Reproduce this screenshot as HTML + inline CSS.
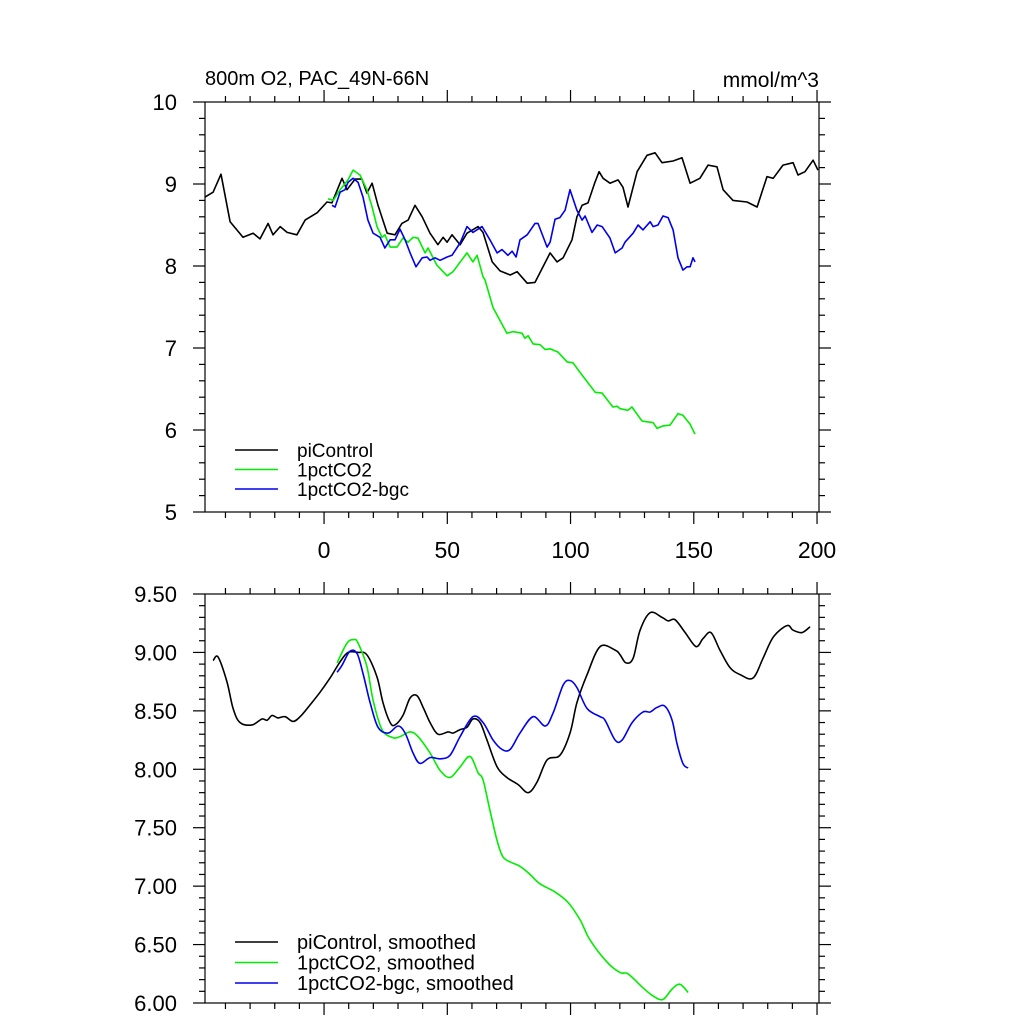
<!DOCTYPE html>
<html><head><meta charset="utf-8"><style>
html,body{margin:0;padding:0;background:#fff;}
svg{display:block;font-family:"Liberation Sans",Arial,sans-serif;}
</style></head><body>
<svg id="chart" width="1024" height="1024" viewBox="0 0 1024 1024"></svg>
<script>
// ---- data ----
const piYears=[-48.3,-45.0,-41.8,-38.1,-32.9,-28.8,-26.0,-22.7,-20.7,-17.8,-15.0,-11.0,-7.7,-2.8,1.2,3.2,7.3,9.3,12.6,15.4,17.4,19.5,21.9,25.6,28.8,31.6,34.1,36.9,39.8,43.0,46.2,48.3,49.9,51.9,55.2,58.0,62.5,64.5,68.2,71.4,75.5,78.3,82.4,85.6,91.7,94.5,97.0,100.6,102.6,104.7,107.1,109.9,111.6,113.2,116.0,119.3,121.3,123.3,127.0,131.0,134.3,137.1,141.6,145.2,148.5,152.5,155.8,159.4,161.9,165.9,171.6,175.7,179.7,182.2,186.2,190.3,192.3,195.1,198.4,200.4];
const piValues=[8.84,8.90,9.12,8.54,8.35,8.40,8.33,8.52,8.38,8.48,8.41,8.38,8.56,8.65,8.78,8.77,9.07,8.93,9.06,9.06,8.89,9.01,8.74,8.40,8.38,8.52,8.56,8.74,8.60,8.40,8.26,8.35,8.29,8.38,8.26,8.40,8.48,8.41,8.05,7.94,7.89,7.93,7.79,7.80,8.16,8.05,8.10,8.32,8.60,8.74,8.77,9.02,9.15,9.07,9.01,9.05,8.96,8.72,9.15,9.35,9.38,9.26,9.28,9.32,9.01,9.07,9.23,9.21,8.93,8.80,8.78,8.72,9.09,9.07,9.23,9.26,9.11,9.15,9.29,9.17];
const co2Years=[1.6,3.7,6.5,9.7,11.8,14.6,17.4,19.5,21.5,23.5,24.7,26.8,29.6,32.0,34.1,36.1,38.1,41.0,42.2,45.8,49.9,52.3,58.0,60.4,62.1,64.5,65.3,68.6,74.2,76.7,80.3,81.5,82.8,84.8,87.6,89.7,91.7,94.9,98.6,101.0,103.9,110.0,112.8,117.2,118.9,120.1,123.3,124.9,129.0,131.0,133.5,135.1,137.5,140.4,143.6,145.6,148.5,150.5];
const co2Values=[8.82,8.80,8.93,9.05,9.17,9.11,8.93,8.72,8.48,8.35,8.38,8.23,8.23,8.34,8.29,8.35,8.34,8.16,8.22,8.01,7.88,7.93,8.16,8.05,8.13,7.87,7.83,7.49,7.18,7.20,7.18,7.12,7.15,7.05,7.04,6.98,6.99,6.95,6.83,6.82,6.70,6.46,6.45,6.28,6.29,6.26,6.24,6.28,6.11,6.10,6.09,6.02,6.05,6.06,6.20,6.18,6.07,5.95];
const bgcYears=[3.2,4.5,6.5,8.5,9.7,11.8,13.8,15.8,17.8,19.9,22.7,24.7,26.8,28.8,30.8,32.9,34.9,37.3,39.8,41.8,43.0,45.0,47.1,49.9,51.9,55.2,58.0,60.4,64.1,67.3,70.2,72.2,74.6,76.3,77.9,79.5,82.4,85.6,86.8,90.5,91.7,93.7,95.7,97.8,99.8,102.6,104.7,105.9,108.7,110.8,112.8,116.0,118.1,120.9,122.1,125.4,127.4,129.4,132.3,133.5,135.5,137.5,139.6,141.6,143.6,145.6,147.3,148.5,149.7,150.5];
const bgcValues=[8.74,8.72,8.90,8.93,9.02,9.07,9.02,8.84,8.56,8.40,8.35,8.22,8.32,8.32,8.45,8.32,8.16,7.99,8.10,8.11,8.07,8.10,8.07,8.11,8.13,8.28,8.48,8.41,8.48,8.32,8.16,8.20,8.13,8.18,8.11,8.32,8.38,8.52,8.52,8.23,8.29,8.57,8.59,8.68,8.93,8.68,8.56,8.61,8.41,8.50,8.48,8.34,8.16,8.22,8.29,8.40,8.50,8.44,8.54,8.48,8.50,8.61,8.59,8.44,8.10,7.95,7.99,7.99,8.10,8.05];
const piSmYears=[-45.0,-43.0,-39.4,-36.9,-34.1,-29.2,-25.2,-23.1,-21.1,-18.7,-15.8,-12.6,-9.7,-5.7,-1.6,2.4,6.5,9.7,13.8,17.4,21.5,23.9,26.8,28.8,32.0,34.9,37.7,40.2,43.0,46.2,50.3,52.3,55.2,58.0,60.4,63.3,66.1,70.2,74.2,78.7,82.8,86.4,90.5,95.7,99.8,102.6,106.7,112.0,118.1,120.1,122.5,125.4,128.2,132.3,137.1,139.6,142.4,146.5,150.9,153.8,157.0,160.6,164.7,168.8,174.0,178.1,182.2,187.8,190.3,193.9,197.2];
const piSmValues=[8.93,8.96,8.75,8.52,8.40,8.38,8.43,8.42,8.46,8.44,8.45,8.41,8.45,8.55,8.66,8.78,8.92,9.00,9.00,8.98,8.79,8.57,8.40,8.38,8.46,8.61,8.63,8.53,8.40,8.30,8.32,8.31,8.34,8.36,8.43,8.40,8.25,8.02,7.93,7.87,7.80,7.89,8.08,8.12,8.31,8.57,8.81,9.05,9.02,8.98,8.91,8.95,9.19,9.34,9.30,9.27,9.28,9.17,9.05,9.12,9.17,9.02,8.87,8.81,8.78,8.95,9.13,9.23,9.19,9.17,9.22];
const co2SmYears=[5.3,9.3,12.2,13.8,17.4,19.9,23.5,28.0,30.8,34.9,38.1,43.0,47.1,51.1,55.2,59.2,62.5,64.5,67.3,70.2,72.6,76.3,79.5,83.6,87.6,93.7,99.0,103.9,107.9,114.8,120.1,123.3,129.4,133.5,137.5,141.2,144.4,147.7];
const co2SmValues=[8.91,9.08,9.11,9.08,8.88,8.59,8.34,8.27,8.28,8.32,8.28,8.14,7.99,7.93,8.02,8.11,7.97,7.91,7.65,7.39,7.25,7.20,7.17,7.10,7.02,6.95,6.86,6.71,6.54,6.35,6.26,6.25,6.13,6.06,6.03,6.12,6.16,6.09];
const bgcSmYears=[5.3,7.3,10.5,13.4,15.8,18.7,21.9,26.0,30.0,32.9,36.1,38.9,43.0,47.1,51.1,55.2,60.4,64.5,68.6,72.2,75.5,79.5,84.8,89.7,92.9,97.0,99.8,102.6,106.7,112.0,114.0,118.1,120.9,125.0,129.4,132.3,135.1,138.3,141.2,143.2,145.6,147.7];
const bgcSmValues=[8.83,8.89,9.01,8.99,8.82,8.57,8.36,8.31,8.37,8.31,8.14,8.05,8.10,8.09,8.12,8.28,8.45,8.40,8.25,8.17,8.17,8.31,8.45,8.37,8.48,8.72,8.76,8.70,8.52,8.45,8.42,8.25,8.25,8.40,8.49,8.49,8.53,8.54,8.42,8.22,8.05,8.01];
const xTickValues=[0,50,100,150,200];
const xTickLabels=["0","50","100","150","200"];
const topYTicks=[5,6,7,8,9,10];
const topYLabels=["5","6","7","8","9","10"];
const botYTicks=[6,6.5,7,7.5,8,8.5,9,9.5];
const botYLabels=["6.00","6.50","7.00","7.50","8.00","8.50","9.00","9.50"];

// ---- rendering ----
const NS="http://www.w3.org/2000/svg";
const svg=document.getElementById('chart');
function mk(tag,attrs,parent){const e=document.createElementNS(NS,tag);for(const k in attrs)e.setAttribute(k,attrs[k]);(parent||svg).appendChild(e);return e;}
const X0=205,X1=819,XMIN=-48.3,XMAX=200.8;
function xs(v){return X0+(v-XMIN)/(XMAX-XMIN)*(X1-X0);}

// Catmull-Rom smooth path
function smoothPath(pts){
  let d='M'+pts[0][0].toFixed(1)+','+pts[0][1].toFixed(1);
  for(let i=0;i<pts.length-1;i++){
    const p0=pts[i-1]||pts[i],p1=pts[i],p2=pts[i+1],p3=pts[i+2]||p2;
    const c1=[p1[0]+(p2[0]-p0[0])/6,p1[1]+(p2[1]-p0[1])/6];
    const c2=[p2[0]-(p3[0]-p1[0])/6,p2[1]-(p3[1]-p1[1])/6];
    d+=' C'+c1[0].toFixed(1)+','+c1[1].toFixed(1)+' '+c2[0].toFixed(1)+','+c2[1].toFixed(1)+' '+p2[0].toFixed(1)+','+p2[1].toFixed(1);
  }
  return d;
}

function panel(name,top,bottom,ymin,ymax,yTicks,yLabels,minorStep,showXLabels){
  const g=mk('g',{});
  
  
  const ys=v=>bottom-(v-ymin)/(ymax-ymin)*(bottom-top);
  const axes=mk('g',{stroke:'#000','stroke-width':1.2},g);
  
  
  mk('rect',{x:X0,y:top,width:X1-X0,height:bottom-top,fill:'none'},axes);
  for(let t=-40;t<=200;t+=10){
    const major=(t%50===0);const L=major?12:6;const x=xs(t);
    mk('line',{x1:x,y1:bottom,x2:x,y2:bottom+L},axes);
    mk('line',{x1:x,y1:top,x2:x,y2:top-L},axes);
  }
  const nMinor=Math.round((ymax-ymin)/minorStep);
  for(let i=0;i<=nMinor;i++){
    const v=ymin+i*minorStep;const y=ys(v);
    const major=yTicks.some(t=>Math.abs(t-v)<1e-6);const L=major?12:6;
    mk('line',{x1:X0,y1:y,x2:X0-L,y2:y},axes);
    mk('line',{x1:X1,y1:y,x2:X1+L,y2:y},axes);
  }
  yTicks.forEach((t,i)=>{
    const tx=mk('text',{x:177,y:ys(t)+8,'text-anchor':'end','font-size':22,fill:'#000'},g);
    
    
    tx.textContent=yLabels[i];
  });
  if(showXLabels){
    xTickValues.forEach((t,i)=>{
      const tx=mk('text',{x:xs(t),y:bottom+46,'text-anchor':'middle','font-size':23,fill:'#000'},g);
      
      
      tx.textContent=xTickLabels[i];
    });
  }
  return {g,ys};
}
function series(p,name,years,vals,color,smooth){
  const pts=years.map((yr,i)=>[xs(yr),p.ys(vals[i])]);
  const d=smooth?smoothPath(pts):pts.map((q,i)=>(i?'L':'M')+q[0].toFixed(1)+','+q[1].toFixed(1)).join(' ');
  const path=mk('path',{d:d,fill:'none',stroke:color,'stroke-width':1.6,'stroke-linejoin':'round'},p.g);
  
  
}
function legend(p,name,items,y0,dy,fs){
  const g=mk('g',{},p.g);
  
  
  items.forEach((it,i)=>{
    const y=y0+i*dy;
    mk('line',{x1:235,y1:y,x2:278,y2:y,stroke:it[1],'stroke-width':1.6},g);
    const t=mk('text',{x:297,y:y+7,'font-size':fs,fill:'#000'},g);
    
    
    t.textContent=it[0];
  });
}
const p1=panel('top-panel',102,512,5,10,topYTicks,topYLabels,0.2,true);
series(p1,'picontrol-line',piYears,piValues,'#000',false);
series(p1,'1pctco2-line',co2Years,co2Values,'#00ee00',false);
series(p1,'1pctco2-bgc-line',bgcYears,bgcValues,'#0000ee',false);
legend(p1,'top-legend',[['piControl','#000'],['1pctCO2','#00ee00'],['1pctCO2-bgc','#0000ee']],450,19.5,19);
const t1=mk('text',{x:205,y:85,'font-size':20,fill:'#000'});


t1.textContent='800m O2, PAC_49N-66N';
const t2=mk('text',{x:819,y:87,'font-size':21,fill:'#000','text-anchor':'end'});


t2.textContent='mmol/m^3';

const p2=panel('bottom-panel',594,1003,6,9.5,botYTicks,botYLabels,0.1,false);
series(p2,'picontrol-smoothed-line',piSmYears,piSmValues,'#000',true);
series(p2,'1pctco2-smoothed-line',co2SmYears,co2SmValues,'#00ee00',true);
series(p2,'1pctco2-bgc-smoothed-line',bgcSmYears,bgcSmValues,'#0000ee',true);
legend(p2,'bottom-legend',[['piControl, smoothed','#000'],['1pctCO2, smoothed','#00ee00'],['1pctCO2-bgc, smoothed','#0000ee']],942,20.5,20);
</script>
</body></html>
